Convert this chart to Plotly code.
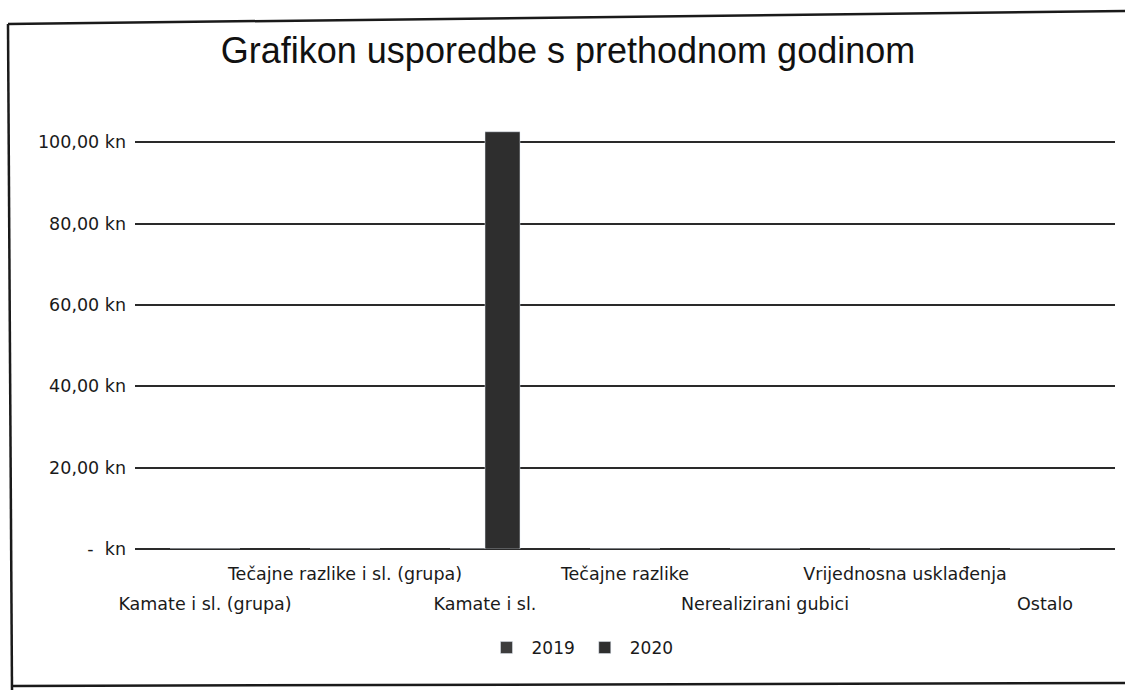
import plotly.graph_objects as go

categories = ["Kamate i sl. (grupa)", "Tečajne razlike i sl. (grupa)", "Kamate i sl.",
              "Tečajne razlike", "Nerealizirani gubici", "Vrijednosna usklađenja", "Ostalo"]
values_2019 = [0, 0, 0, 0, 0, 0, 0]
values_2020 = [0, 0, 102.6, 0, 0, 0, 0]
y_ticks = [0, 20, 40, 60, 80, 100]
y_tick_labels = ["-  kn", "20,00 kn", "40,00 kn", "60,00 kn", "80,00 kn", "100,00 kn"]

W, H = 1125, 690
ML, MR, MT, MB = 135, 10, 122, 141
PW, PH = W - ML - MR, H - MT - MB

def px(x):
    return (x - ML) / PW

def py(y):
    return 1 - (y - MT) / PH

fig = go.Figure()
fig.add_trace(go.Bar(name="2019", x=categories, y=values_2019, marker_color="#3d3d3d"))
fig.add_trace(go.Bar(name="2020", x=categories, y=values_2020, marker_color="#2e2e2e"))
# invisible helper on the second x axis so its category ticks render
fig.add_trace(go.Scatter(x=categories, y=values_2019, xaxis="x2", mode="markers",
                         marker=dict(opacity=0), showlegend=False, hoverinfo="skip"))

tick_font = dict(family="DejaVu Sans", size=17.5, color="#1a1a1a")

fig.update_layout(
    width=W, height=H,
    margin=dict(l=ML, r=MR, t=MT, b=MB),
    paper_bgcolor="white", plot_bgcolor="white",
    barmode="group", bargap=0.5, bargroupgap=0,
    title=dict(text="Grafikon usporedbe s prethodnom godinom",
               font=dict(family="Liberation Sans", size=36, color="#111"),
               x=568 / W, xanchor="center", xref="container", y=1 - 50 / H, yanchor="middle"),
    xaxis=dict(type="category", categoryorder="array", categoryarray=categories,
               range=[-0.5, 6.5], tickvals=categories[1::2], ticktext=categories[1::2],
               showgrid=False, showline=False, zeroline=False, ticks="",
               tickfont=tick_font, tickangle=0, ticklabelstandoff=12),
    xaxis2=dict(type="category", categoryorder="array", categoryarray=categories,
                range=[-0.5, 6.5], overlaying="x", anchor="y", side="bottom",
                tickvals=categories[0::2], ticktext=categories[0::2],
                showgrid=False, showline=False, zeroline=False, ticks="",
                tickfont=tick_font, tickangle=0, ticklabelstandoff=42),
    yaxis=dict(range=[0, 105], tickvals=y_ticks, ticktext=y_tick_labels,
               showgrid=True, gridcolor="#2a2a2a", gridwidth=1.5,
               zeroline=True, zerolinecolor="#2a2a2a", zerolinewidth=1.5,
               showline=False, ticks="", tickfont=tick_font, ticklabelstandoff=8),
    legend=dict(orientation="h", x=px(580), xanchor="center", y=py(648), yanchor="middle",
                font=dict(family="DejaVu Sans", size=17, color="#1a1a1a"),
                itemwidth=40, traceorder="normal"),
    showlegend=True,
)

# scanned page border
border = [((8, 24), (1125, 11)), ((8, 24), (12, 690)), ((12, 686), (1125, 683))]
for (x0, y0), (x1, y1) in border:
    fig.add_shape(type="line", xref="paper", yref="paper",
                  x0=px(x0), y0=py(y0), x1=px(x1), y1=py(y1),
                  line=dict(color="#1a1a1a", width=2.5))

fig.write_html("out.html", config={"displayModeBar": False},
               post_script="document.body.style.margin='0px';")
